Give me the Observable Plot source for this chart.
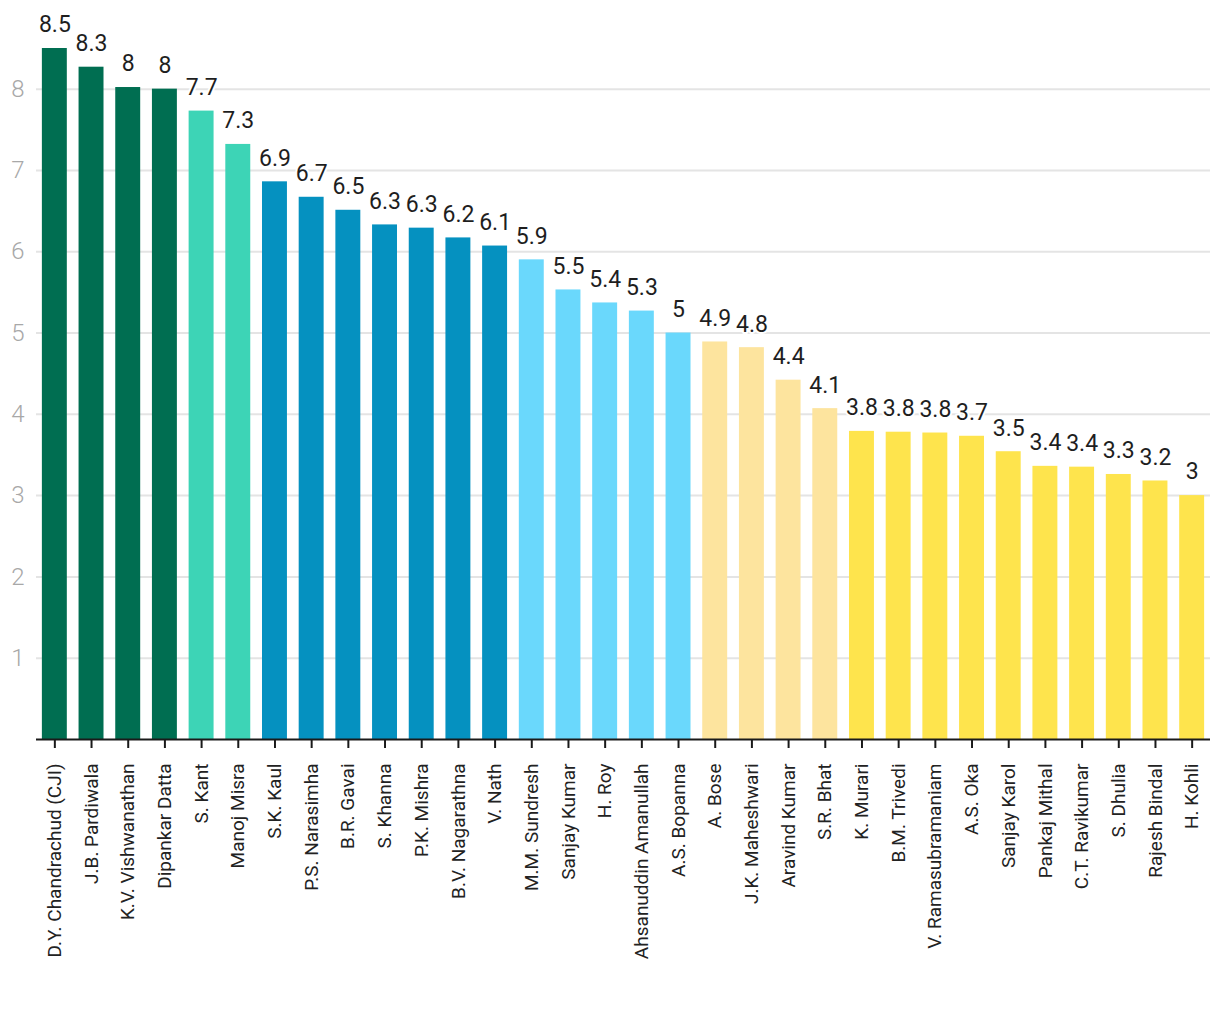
<!DOCTYPE html>
<html>
<head>
<meta charset="utf-8">
<script src="https://cdn.jsdelivr.net/npm/d3@7"></script>
<script src="https://cdn.jsdelivr.net/npm/@observablehq/plot@0.6"></script>
<style>
  html, body { margin: 0; padding: 0; background: #fff; }
  #chart { width: 1220px; }
  svg { font-family: Roboto, "Noto Sans", sans-serif; }
</style>
</head>
<body>
<div id="chart"></div>
<script>
const judges = ["D.Y. Chandrachud (CJI)","J.B. Pardiwala","K.V. Vishwanathan","Dipankar Datta","S. Kant","Manoj Misra","S.K. Kaul","P.S. Narasimha","B.R. Gavai","S. Khanna","P.K. Mishra","B.V. Nagarathna","V. Nath","M.M. Sundresh","Sanjay Kumar","H. Roy","Ahsanuddin Amanullah","A.S. Bopanna","A. Bose","J.K. Maheshwari","Aravind Kumar","S.R. Bhat","K. Murari","B.M. Trivedi","V. Ramasubramaniam","A.S. Oka","Sanjay Karol","Pankaj Mithal","C.T. Ravikumar","S. Dhulia","Rajesh Bindal","H. Kohli"];
const values = [8.50,8.27,8.02,8.00,7.73,7.32,6.86,6.67,6.51,6.33,6.29,6.17,6.07,5.90,5.53,5.37,5.27,5.00,4.89,4.82,4.42,4.07,3.79,3.78,3.77,3.73,3.54,3.36,3.35,3.26,3.18,3.00];
const groups = ["g1","g1","g1","g1","g2","g2","g3","g3","g3","g3","g3","g3","g3","g4","g4","g4","g4","g4","g5","g5","g5","g5","g6","g6","g6","g6","g6","g6","g6","g6","g6","g6"];
const groupNames = ["g1","g2","g3","g4","g5","g6"];
const groupColors = ["#006e51","#3dd4b6","#0591c0","#6ad8fc","#fde49e","#fee44d"];
const yTicks = [1,2,3,4,5,6,7,8];

const data = judges.map((name, i) => ({name, value: values[i], group: groups[i]}));
const fmt = d3.format(".1~f");

const chart = Plot.plot({
  width: 1220,
  height: 1000,
  marginLeft: 36,
  marginRight: 10,
  marginTop: 48,
  marginBottom: 261,
  style: {fontFamily: "Roboto, 'Noto Sans', sans-serif", background: "#fff"},
  x: {domain: judges, paddingInner: 0.32, paddingOuter: 0.16, round: false, label: null},
  y: {domain: [0, 8.5], label: null},
  color: {domain: groupNames, range: groupColors},
  marks: [
    Plot.gridY(yTicks, {stroke: "#e4e4e4", strokeOpacity: 1, strokeWidth: 2}),
    Plot.axisY(yTicks, {tickSize: 0, tickPadding: 12, fontSize: 24, fontWeight: 300, fill: "#a8a8a8", label: null, tickFormat: d => String(d)}),
    Plot.barY(data, {x: "name", y: "value", fill: "group"}),
    Plot.ruleY([0], {stroke: "#1a1a1a", strokeWidth: 2}),
    Plot.axisX({tickSize: 9, tickPadding: 15, tickRotate: -90, fontSize: 19, fill: "#222", stroke: "#1a1a1a", strokeWidth: 2, label: null, tickFormat: d => d}),
    Plot.text(data, {x: "name", y: "value", text: d => fmt(d.value), dy: -23.5, fontSize: 23, fill: "#1e1e1e", stroke: "white", strokeWidth: 4, paintOrder: "stroke"})
  ]
});
document.getElementById("chart").appendChild(chart);
</script>
</body>
</html>
